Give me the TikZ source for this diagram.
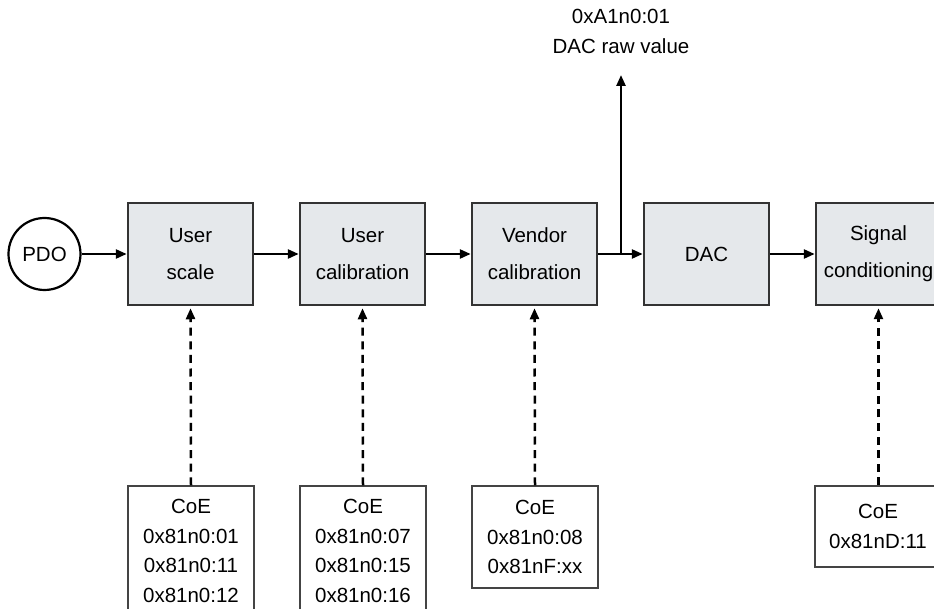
\documentclass[tikz,border=0pt]{standalone}
\usepackage{fontspec}
\setmainfont{Liberation Sans}
\usetikzlibrary{arrows.meta}
\definecolor{blockfill}{HTML}{E5E8EB}
\definecolor{blockline}{HTML}{333333}
\definecolor{coeline}{HTML}{444444}
\begin{document}
\begin{tikzpicture}[x=1pt,y=-1pt,
  block/.style={draw=blockline, fill=blockfill, line width=2.5pt, minimum width=125pt, minimum height=102pt, inner sep=0pt, align=center, font=\fontsize{20.5}{37}\selectfont},
  coe/.style={draw=coeline, fill=white, line width=1.4pt, minimum width=126pt, inner sep=0pt, align=center, font=\fontsize{20.5}{29.5}\selectfont},
  src/.style={draw=black, fill=white, circle, line width=2.2pt, minimum size=72pt, inner sep=0pt, font=\fontsize{20.5}{24}\selectfont},
  lbl/.style={align=center, font=\fontsize{20.5}{30}\selectfont},
  flow/.style={-{Triangle[length=11pt,width=9pt]}, line width=2.5pt},
  param/.style={flow, dash pattern=on 8pt off 5.6pt, shorten >=2pt}]
\useasboundingbox (0,0) rectangle (934,609);
\clip (0,0) rectangle (934,609);

\node[src] (pdo) at (44.5,254) {PDO};
\node[block] (us) at (190.5,254) {User\\scale};
\node[block] (uc) at (362.5,254) {User\\calibration};
\node[block] (vc) at (534.5,254) {Vendor\\calibration};
\node[block] (dac) at (706.5,254) {DAC};
\node[block] (sc) at (878.5,254) {Signal\\conditioning};

\node[lbl] (raw) at (621,31) {0xA1n0:01\\DAC raw value};
\coordinate (br) at (621,254);
\coordinate (rawtip) at (621,75);

\node[coe, minimum height=130pt] (c1) at (191,551) {CoE\\0x81n0:01\\0x81n0:11\\0x81n0:12};
\node[coe, minimum height=130pt] (c2) at (363,551) {CoE\\0x81n0:07\\0x81n0:15\\0x81n0:16};
\node[coe, minimum height=102pt] (c3) at (535,537) {CoE\\0x81n0:08\\0x81nF:xx};
\node[coe, minimum height=81pt] (c4) at (878,526.5) {CoE\\0x81nD:11};

\draw[flow] (pdo.east) -- (us.west);
\draw[flow] (us.east) -- (uc.west);
\draw[flow] (uc.east) -- (vc.west);
\draw[flow] (vc.east) -- (dac.west);
\draw[flow] (br) -- (rawtip);
\draw[flow] (dac.east) -- (sc.west);

\draw[param] (c1.north) -- (us.south);
\draw[param] (c2.north) -- (uc.south);
\draw[param] (c3.north) -- (vc.south);
\draw[param] (c4.north -| sc.south) -- (sc.south);
\end{tikzpicture}
\end{document}
